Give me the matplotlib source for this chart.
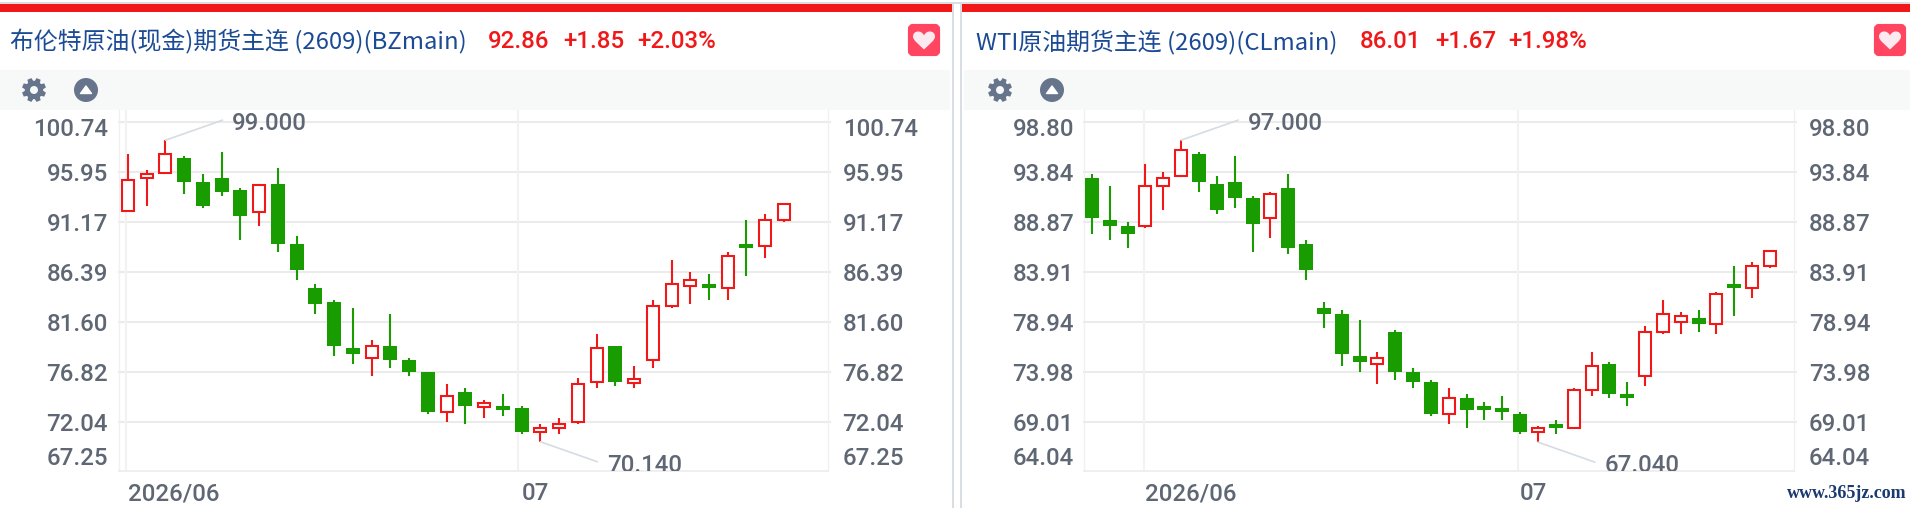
"""
Brent and WTI main-contract candlestick panels, side by side.
"""
import numpy as np
import matplotlib
matplotlib.use('Agg')
import matplotlib.pyplot as plt
from matplotlib.patches import Circle, Polygon, Rectangle, FancyBboxPatch, PathPatch
from matplotlib.path import Path

W, H = 1910, 508
RED = '#f01818'
GREEN = '#189c00'
GRID = '#ebebeb'
VGRID = '#f2f2f2'
TEXT = '#5f6775'
NAVY = '#1c4b96'
LEADER = '#d5dce2'
ICON = '#66758c'
BAND = '#f7f8f8'
PRICE_FONT = ['Roboto', 'DejaVu Sans']
TITLE_FONT = ['Noto Sans CJK SC', 'DejaVu Sans']
PRICE_SIZE = 17.3

# ====== Brent daily candles ======
BZ_OPEN = [92.25, 95.35, 95.89, 97.30, 95.00, 95.38, 94.23, 92.10, 94.81, 89.07, 84.85, 83.51,
           79.11, 78.13, 79.30, 77.96, 76.82, 72.96, 74.90, 73.47, 73.56, 73.37, 71.04, 71.42,
           72.00, 75.83, 79.30, 75.76, 77.93, 83.10, 85.07, 85.24, 84.82, 89.07, 88.85, 91.33]
BZ_HIGH = [97.68, 96.15, 99.00, 97.49, 95.76, 97.87, 94.42, 94.81, 96.34, 89.83, 85.24, 83.71,
           82.94, 79.88, 82.37, 78.15, 76.82, 75.67, 75.28, 74.12, 74.71, 73.56, 71.84, 72.41,
           76.24, 80.45, 79.30, 77.39, 83.71, 87.53, 86.38, 86.19, 88.30, 91.36, 91.94, 92.89]
BZ_LOW = [92.13, 92.70, 95.76, 93.85, 92.51, 93.66, 89.45, 90.79, 88.30, 85.62, 82.37, 78.35,
          77.58, 76.43, 77.20, 76.43, 72.80, 72.03, 71.84, 72.41, 72.60, 70.88, 70.14, 70.88,
          71.84, 75.28, 75.47, 75.28, 77.20, 82.94, 83.32, 83.71, 83.71, 85.99, 87.72, 91.17]
BZ_CLOSE = [95.19, 95.79, 97.71, 95.00, 92.70, 94.04, 91.74, 94.68, 89.07, 86.58, 83.32, 79.30,
            78.54, 79.33, 77.96, 76.82, 73.00, 74.55, 73.56, 73.85, 73.18, 71.07, 71.49, 71.87,
            75.70, 79.14, 75.86, 76.14, 83.16, 85.27, 85.65, 84.85, 87.94, 88.68, 91.39, 92.86]
BZ_TICKS = [100.74, 95.95, 91.17, 86.39, 81.60, 76.82, 72.04, 67.25]

# ====== WTI daily candles ======
CL_OPEN = [93.24, 89.08, 88.48, 88.45, 92.42, 93.41, 95.62, 92.65, 92.85, 91.26, 89.24, 92.25, 86.70,
           80.35, 79.75, 75.58, 74.76, 77.97, 74.00, 73.01, 69.80, 71.42, 70.62, 70.43, 69.83, 68.02,
           68.84, 68.41, 72.18, 74.79, 71.82, 73.57, 77.94, 78.93, 79.35, 78.73, 82.73, 82.30, 84.48]
CL_HIGH = [93.64, 92.45, 88.88, 94.63, 93.84, 97.00, 95.82, 93.44, 95.42, 91.46, 91.85, 93.64, 87.09,
           80.94, 80.15, 79.16, 75.98, 78.16, 74.39, 73.20, 72.41, 71.82, 71.02, 71.62, 70.03, 68.64,
           69.24, 72.41, 75.98, 74.99, 73.01, 78.56, 81.14, 79.95, 80.15, 81.93, 84.51, 84.91, 86.10]
CL_LOW = [87.69, 87.09, 86.30, 88.28, 90.07, 93.39, 91.85, 89.67, 90.27, 85.90, 87.29, 85.70, 83.12,
          78.36, 74.59, 74.00, 72.81, 73.20, 72.41, 69.63, 68.84, 68.44, 69.24, 69.24, 67.85, 67.04,
          67.85, 68.37, 71.62, 71.42, 70.62, 72.61, 77.77, 77.77, 77.97, 77.77, 79.55, 81.34, 84.31]
CL_CLOSE = [89.27, 88.48, 87.69, 92.48, 93.27, 96.05, 92.85, 90.07, 91.26, 88.68, 91.68, 86.30, 84.12,
            79.75, 75.78, 74.99, 75.42, 74.00, 73.01, 69.83, 71.45, 70.23, 70.23, 70.03, 68.05, 68.47,
            68.44, 72.24, 74.62, 71.82, 71.42, 78.00, 79.78, 79.58, 78.76, 81.77, 82.33, 84.54, 86.01]
CL_TICKS = [98.80, 93.84, 88.87, 83.91, 78.94, 73.98, 69.01, 64.04]


def px(ax_bg, x0, y0, x1, y1, color):
    ax_bg.add_patch(Rectangle((x0, y0), x1 - x0, y1 - y0, fc=color, ec='none'))


def draw_candles(ax, opens, highs, lows, closes, body_px, step):
    for i, (o, h, l, c) in enumerate(zip(opens, highs, lows, closes)):
        up = c >= o
        color = RED if up else GREEN
        ax.vlines(i, l, h, color=color, linewidth=1.5, zorder=3)
        if up:
            ax.bar(i, c - o, bottom=o, width=(body_px - 2) / step, facecolor='white',
                   edgecolor=color, linewidth=1.5, zorder=4)
        else:
            ax.bar(i, o - c, bottom=c, width=body_px / step, color=color, linewidth=0, zorder=4)


def draw_panel(left, right, limits, step, vlines, ticks, ohlc, x_labels, left_gap, right_gap):
    ax = fig.add_axes([left / W, (H - 471) / H, (right - left) / W, 361 / H], zorder=2)
    ax.set_xlim(limits['x0'], limits['x1'])
    ax.set_ylim(limits['y0'], limits['y1'])
    ax.set_xticks([])
    ax.set_yticks([])
    for side in ['left', 'right']:
        ax.spines[side].set_color('#f0f0f0')
        ax.spines[side].set_linewidth(1.0)
    ax.spines['top'].set_visible(False)
    ax.spines['bottom'].set_color('#ececec')
    ax.spines['bottom'].set_linewidth(1.2)

    for t in ticks[:-1]:
        ax.axhline(t, xmin=0, xmax=1.003, color=GRID, linewidth=1.5, zorder=1, clip_on=False)
    for v in vlines:
        ax.axvline(v, color=VGRID, linewidth=1.5, zorder=1)

    draw_candles(ax, *ohlc, 14, step)

    # top and bottom scale labels are nudged inside the plot area
    nudges = {0: -3.6, len(ticks) - 1: 11.5}
    for n, t in enumerate(ticks):
        dy = nudges.get(n, 0)
        label = f"{t:.2f}"
        ax.annotate(label, xy=(0, t), xycoords=ax.get_yaxis_transform(), xytext=(-left_gap, dy),
                    textcoords='offset points', ha='right', va='center_baseline', fontsize=PRICE_SIZE,
                    fontweight='medium', color=TEXT, family=PRICE_FONT)
        ax.annotate(label, xy=(1, t), xycoords=ax.get_yaxis_transform(), xytext=(right_gap, dy),
                    textcoords='offset points', ha='left', va='center_baseline', fontsize=PRICE_SIZE,
                    fontweight='medium', color=TEXT, family=PRICE_FONT)

    for x, label in x_labels:
        ax.annotate(label, xy=(x, 0), xycoords=ax.get_xaxis_transform(), xytext=(0, -14.5),
                    textcoords='offset points', ha='left', va='center_baseline', fontsize=PRICE_SIZE,
                    fontweight='medium', color=TEXT, family=PRICE_FONT)
    return ax


def mark_extreme(ax, idx, price, label, end_off, text_x_off, text_dy):
    # leader line from the candle tip, then the value next to it
    ax.annotate('', xy=(idx, price), xytext=end_off, textcoords='offset points',
                arrowprops=dict(arrowstyle='-', color=LEADER, linewidth=1.2, shrinkA=0, shrinkB=0), zorder=5)
    ax.annotate(label, xy=(idx, price), xytext=(text_x_off, text_dy), textcoords='offset points',
                ha='left', va='center_baseline', fontsize=PRICE_SIZE, fontweight='medium', color=TEXT,
                family=PRICE_FONT, annotation_clip=False, clip_on=True, zorder=6)


def draw_gear(cx, cy):
    for ang in np.arange(0, 360, 45):
        a = np.radians(ang + 22.5)
        ux, uy = np.cos(a), np.sin(a)
        vx, vy = -uy, ux
        bg.add_patch(Polygon([(cx + ux * 7 - vx * 3, cy + uy * 7 - vy * 3),
                              (cx + ux * 7 + vx * 3, cy + uy * 7 + vy * 3),
                              (cx + ux * 12 + vx * 2.2, cy + uy * 12 + vy * 2.2),
                              (cx + ux * 12 - vx * 2.2, cy + uy * 12 - vy * 2.2)], fc=ICON, ec='none'))
    bg.add_patch(Circle((cx, cy), 9.2, fc=ICON, ec='none'))
    bg.add_patch(Circle((cx, cy), 4, fc=BAND, ec='none'))


def draw_heart(cx, cy, r, color):
    # two lobes meeting at a point, y grows downward here
    verts = [(cx, cy + r * 0.95),
             (cx - r * 0.5, cy + r * 0.45), (cx - r * 1.1, cy + r * 0.05), (cx - r * 1.1, cy - r * 0.35),
             (cx - r * 1.1, cy - r * 0.95), (cx - r * 0.25, cy - r * 1.05), (cx, cy - r * 0.45),
             (cx + r * 0.25, cy - r * 1.05), (cx + r * 1.1, cy - r * 0.95), (cx + r * 1.1, cy - r * 0.35),
             (cx + r * 1.1, cy + r * 0.05), (cx + r * 0.5, cy + r * 0.45), (cx, cy + r * 0.95)]
    codes = [Path.MOVETO] + [Path.CURVE4] * 12
    bg.add_patch(PathPatch(Path(verts, codes), fc=color, ec='none'))


def draw_header(x_panel, title, title_x, quotes, heart_x):
    bg.text(title_x, 42, title, fontsize=17.2, color=NAVY, family=TITLE_FONT, ha='left', va='center')
    for qx, q in quotes:
        bg.text(qx, 41, q, fontsize=PRICE_SIZE, fontweight='medium', color=RED, family=PRICE_FONT,
                ha='left', va='center')
    bg.add_patch(FancyBboxPatch((heart_x + 2, 26), 28, 28, boxstyle='round,pad=0,rounding_size=3',
                                fc='#ff4560', ec='#ff4560', linewidth=3))
    draw_heart(heart_x + 16, 40, 10, '#fdeaf0')
    # settings gear and collapse button
    draw_gear(x_panel + 34, 90)
    bg.add_patch(Circle((x_panel + 86, 90), 12, fc=ICON, ec='none'))
    bg.add_patch(Polygon([(x_panel + 80.5, 93.5), (x_panel + 91.5, 93.5), (x_panel + 86, 86)], fc='white', ec='white',
                         linewidth=1, joinstyle='round'))


fig = plt.figure(figsize=(W / 100, H / 100), dpi=100, facecolor='white')

# page furniture, laid out in pixel units
bg = fig.add_axes([0, 0, 1, 1], zorder=0)
bg.set_xlim(0, W)
bg.set_ylim(H, 0)
bg.axis('off')
px(bg, 0, 2, W, 4, '#d9dee3')
px(bg, 0, 4, 952, 12, RED)
px(bg, 962, 4, W, 12, RED)
px(bg, 952, 2, 954, H, '#d9dee3')
px(bg, 960, 2, 962, H, '#d9dee3')
px(bg, 0, 70, 950, 110, BAND)
px(bg, 964, 70, W, 110, BAND)

draw_header(0, '布伦特原油(现金)期货主连 (2609)(BZmain)', 10,
            [(488, '92.86'), (563, '+1.85'), (637, '+2.03%')], 908)
draw_header(966, 'WTI原油期货主连 (2609)(CLmain)', 976,
            [(1360, '86.01'), (1435, '+1.67'), (1508, '+1.98%')], 1874)

# ====== Brent panel ======
ax_bz = draw_panel(118.5, 828, dict(x0=-0.507, x1=37.35, y0=67.34, y1=101.89), 18.74, [-0.1, 20.81], BZ_TICKS,
                   (BZ_OPEN, BZ_HIGH, BZ_LOW, BZ_CLOSE), [(-0.0, '2026/06'), (21.0, '07')], 7.6, 10.5)
mark_extreme(ax_bz, 2, 99.00, '99.000', (41, 14.4), 47.5, 13.5)
mark_extreme(ax_bz, 22, 70.14, '70.140', (41, -14.4), 48, -15)

# ====== WTI panel ======
ax_cl = draw_panel(1084.3, 1794, dict(x0=-0.43, x1=39.35, y0=64.18, y1=99.99), 17.84, [2.91, 23.88], CL_TICKS,
                   (CL_OPEN, CL_HIGH, CL_LOW, CL_CLOSE), [(3.0, '2026/06'), (24.0, '07')], 7.4, 10.8)
mark_extreme(ax_cl, 5, 97.00, '97.000', (41, 14.4), 48, 13.5)
mark_extreme(ax_cl, 25, 67.04, '67.040', (41, -14.4), 48, -15)

fig.text(1787 / W, (H - 493) / H, 'www.365jz.com', fontsize=13, color='#1a3a70', family='Liberation Serif',
         fontweight='bold', ha='left', va='center', zorder=3)

fig.savefig('out.png', dpi=100)
print("Saved: out.png")
